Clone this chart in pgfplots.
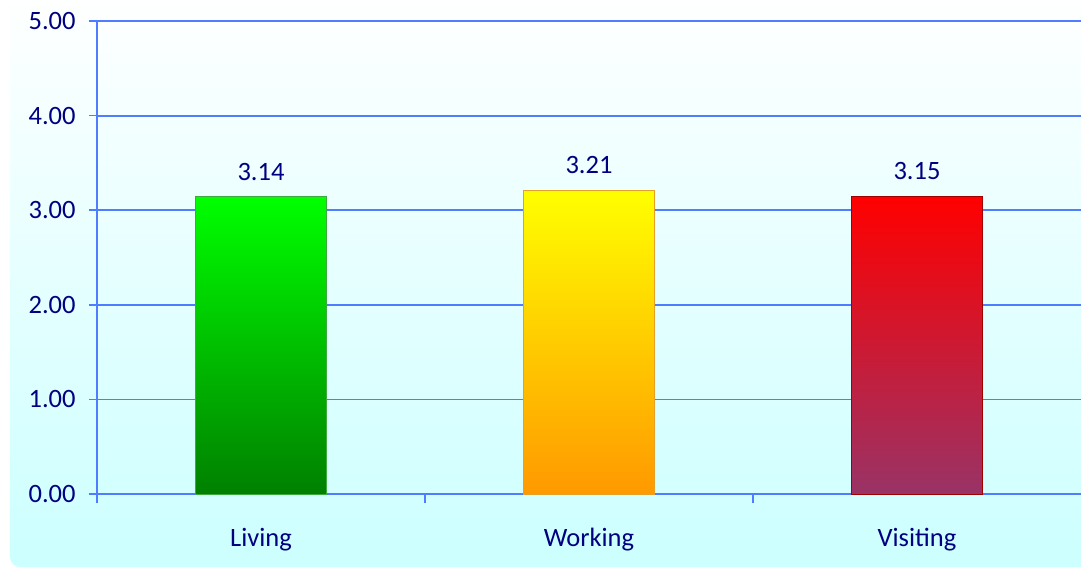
\documentclass[border=0pt]{standalone}
\usepackage{pgfplots}
\pgfplotsset{compat=1.18}
\usepackage{fontspec}
\setmainfont{Carlito}
\definecolor{navy}{RGB}{0,0,128}
\definecolor{axblue}{RGB}{80,125,255}
\definecolor{bgcyan}{RGB}{204,255,255}
\definecolor{gtop}{RGB}{0,255,0}
\definecolor{gbot}{RGB}{0,128,0}
\definecolor{gbrd}{RGB}{60,170,60}
\definecolor{ytop}{RGB}{255,255,0}
\definecolor{ybot}{RGB}{255,153,0}
\definecolor{ybrd}{RGB}{230,160,40}
\definecolor{rtop}{RGB}{255,0,0}
\definecolor{rbot}{RGB}{153,51,102}
\definecolor{rbrd}{RGB}{160,0,0}
\begin{document}
\fontsize{13.25}{16}\selectfont
\begin{tikzpicture}
\useasboundingbox (-48.5pt,-37.5pt) rectangle (492pt,247pt);
\shade[top color=white, bottom color=bgcyan, rounded corners=5pt] (-43.5pt,-36.5pt) rectangle (510pt,252pt);
\begin{axis}[at={(0,0)}, anchor=south west, scale only axis,
  width=492pt, height=236.5pt,
  xmin=-0.5, xmax=2.5, ymin=0, ymax=5,
  axis lines=left,
  axis line style={-, draw=axblue, line width=0.9pt},
  ytick={0,1,2,3,4,5},
  ymajorgrids, grid style={axblue, line width=0.9pt},
  ytick style={draw=axblue, line width=0.75pt},
  tick align=outside,
  major tick length=4pt,
  xtick={0,1,2}, xticklabels={Living,Working,Visiting},
  xtick style={draw=none},
  extra x ticks={-0.5,0.5,1.5}, extra x tick labels={},
  extra x tick style={xtick style={draw=axblue, line width=0.75pt}, major tick length=4.5pt},
  ticklabel style={text=navy},
  xticklabel style={anchor=center, yshift=-19pt},
  yticklabel style={anchor=east, inner sep=0pt, xshift=-6.5pt},
  /pgf/number format/fixed,
  /pgf/number format/fixed zerofill,
  /pgf/number format/precision=2,
  /pgf/number format/assume math mode=true,
  every node near coord/.append style={anchor=center, yshift=12.5pt, text=navy},
  clip=false,
]
\addplot[ybar, bar width=0.4, bar shift=0pt, top color=gtop, bottom color=gbot, draw=gbrd, line width=0.5pt, nodes near coords] coordinates {(0,3.14)};
\addplot[ybar, bar width=0.4, bar shift=0pt, top color=ytop, bottom color=ybot, draw=ybrd, line width=0.5pt, nodes near coords] coordinates {(1,3.21)};
\addplot[ybar, bar width=0.4, bar shift=0pt, top color=rtop, bottom color=rbot, draw=rbrd, line width=0.5pt, nodes near coords] coordinates {(2,3.15)};
\end{axis}
\end{tikzpicture}
\end{document}
